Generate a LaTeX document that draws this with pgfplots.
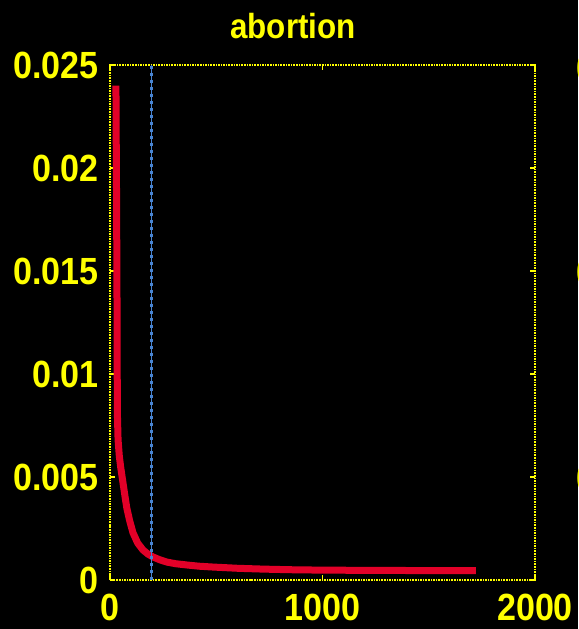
\documentclass[border=0pt]{standalone}
\usepackage{fontspec}
\setmainfont{Liberation Sans}[FakeStretch=0.9]
\usepackage{pgfplots}
\pgfplotsset{compat=1.18}
\usetikzlibrary{backgrounds}
\definecolor{ylw}{RGB}{255,255,0}
\definecolor{crv}{RGB}{226,0,40}
\definecolor{vln}{RGB}{72,132,210}
\begin{document}
\begin{tikzpicture}
\begin{axis}[
  scale only axis, width=425bp, height=515bp,
  xmin=0, xmax=2000, ymin=0, ymax=0.025,
  clip=false,
  axis line style={ylw, densely dotted, line width=1.6bp},
  tick style={ylw, solid, line width=1.3bp},
  major tick length=5bp,
  tick align=inside,
  xtick={0,1000,2000}, xticklabels={0,1000,2000},
  ytick={0,0.005,0.01,0.015,0.02,0.025},
  yticklabels={0,0.005,0.01,0.015,0.02,0.025},
  scaled y ticks=false, scaled x ticks=false,
  /pgf/number format/assume math mode=true,
  ticklabel style={text=ylw, font=\bfseries\fontsize{38}{38}\selectfont, inner sep=0pt},
  yticklabel style={anchor=east, xshift=-11bp},
  xticklabel style={anchor=north, yshift=-14bp},
]
\addplot[crv, line width=7bp, line cap=butt, line join=round] coordinates {
(28,0.0240) (30,0.0200) (31,0.0184) (32,0.0160) (33,0.0136) (34,0.0100)
(35,0.0080) (38,0.0068) (44,0.0060) (50,0.0055) (60,0.0048) (70,0.0041)
(79,0.0035) (92,0.0029) (108,0.0023) (130,0.0018) (155,0.00146) (180,0.00125)
(202,0.00112) (235,0.00098) (268,0.00087) (310,0.00079) (362,0.00073)
(420,0.00067) (485,0.00063) (600,0.00057) (720,0.00053) (847,0.00050)
(1000,0.00048) (1200,0.00047) (1450,0.00046) (1722,0.00046)
};
\addplot[vln, line width=1bp] coordinates {(195,0) (195,0.025)};
\addplot[vln, line width=3bp, dash pattern=on 3bp off 4bp] coordinates {(195,0) (195,0.025)};
\node[text=ylw, font=\bfseries\fontsize{35}{35}\selectfont, anchor=base, inner sep=0pt]
  at (rel axis cs:0.4306,1.0505) {abortion};
\node[text=ylw, font=\bfseries\fontsize{38}{38}\selectfont, anchor=west, inner sep=0pt]
  at (rel axis cs:1.0965,0.9942) {0.0};
\node[text=ylw, font=\bfseries\fontsize{38}{38}\selectfont, anchor=west, inner sep=0pt]
  at (rel axis cs:1.0965,0.598) {0.0};
\node[text=ylw, font=\bfseries\fontsize{38}{38}\selectfont, anchor=west, inner sep=0pt]
  at (rel axis cs:1.0965,0.198) {0.0};
\coordinate (bl) at (rel axis cs:-0.2588,-0.0951);
\coordinate (tr) at (rel axis cs:1.1012,1.1262);
\end{axis}
\begin{scope}[on background layer]
\fill[black] (bl) rectangle (tr);
\end{scope}
\pgfresetboundingbox
\path[use as bounding box] (bl) rectangle (tr);
\end{tikzpicture}
\end{document}
